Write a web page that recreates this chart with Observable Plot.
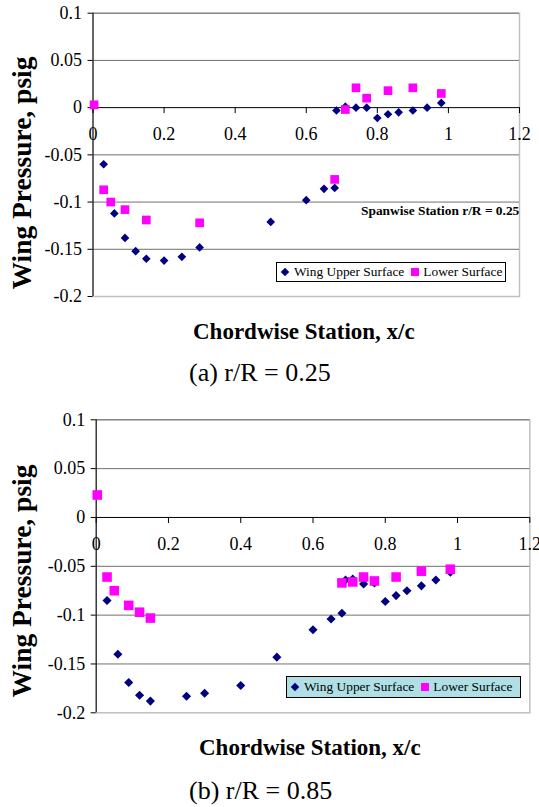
<!DOCTYPE html>
<html><head><meta charset="utf-8">
<script src="https://cdn.jsdelivr.net/npm/d3@7"></script>
<script src="https://cdn.jsdelivr.net/npm/@observablehq/plot@0.6"></script>
<style>
html,body{margin:0;padding:0;background:#fff;}
#page{position:relative;width:539px;height:807px;overflow:hidden;font-family:"Liberation Serif","Times New Roman",serif;color:#000;background:#fff;}
.abs{position:absolute;white-space:nowrap;line-height:1;}
.ytitle{font-weight:bold;font-size:27.5px;transform:translate(-50%,-50%) rotate(-90deg);}
.xtitle{font-weight:bold;font-size:23px;}
.cap{font-size:26px;}
.legend{box-sizing:border-box;border:1px solid #000;display:flex;align-items:center;font-size:13.4px;}
.dia{display:inline-block;width:6px;height:6px;background:#000080;transform:rotate(45deg);flex:none;}
.sq{display:inline-block;width:8px;height:8px;background:#ff00ff;flex:none;}
</style></head><body><div id="page"></div>
<script>
// ---- data ----
const xTicks = [0, 0.2, 0.4, 0.6, 0.8, 1, 1.2];
const xTickLabels = ["0", "0.2", "0.4", "0.6", "0.8", "1", "1.2"];
const yTicks = [0.1, 0.05, 0, -0.05, -0.1, -0.15, -0.2];
const yTickLabels = ["0.1", "0.05", "0", "-0.05", "-0.1", "-0.15", "-0.2"];
const gridVals = [0.1, 0.05, -0.05, -0.1, -0.15];

// (a) r/R = 0.25
const upperX_a = [0.03, 0.06, 0.09, 0.12, 0.15, 0.2, 0.25, 0.3, 0.5, 0.6, 0.65, 0.68, 0.685, 0.71, 0.74, 0.77, 0.8, 0.83, 0.86, 0.9, 0.94, 0.98];
const upperY_a = [-0.060, -0.112, -0.138, -0.152, -0.160, -0.162, -0.158, -0.148, -0.121, -0.098, -0.086, -0.085, -0.003, 0.001, 0.000, 0.000, -0.011, -0.007, -0.005, -0.003, 0.000, 0.005];
const lowerX_a = [0.003, 0.03, 0.05, 0.09, 0.15, 0.3, 0.68, 0.71, 0.74, 0.77, 0.83, 0.9, 0.98];
const lowerY_a = [0.003, -0.087, -0.100, -0.108, -0.119, -0.122, -0.076, -0.002, 0.021, 0.010, 0.018, 0.021, 0.015];

// (b) r/R = 0.85
const upperX_b = [0.03, 0.06, 0.09, 0.12, 0.15, 0.25, 0.3, 0.4, 0.5, 0.6, 0.65, 0.68, 0.69, 0.71, 0.74, 0.77, 0.8, 0.83, 0.86, 0.9, 0.94, 0.98];
const upperY_b = [-0.085, -0.140, -0.169, -0.182, -0.188, -0.183, -0.180, -0.172, -0.143, -0.115, -0.104, -0.098, -0.064, -0.063, -0.068, -0.067, -0.086, -0.080, -0.075, -0.070, -0.064, -0.056];
const lowerX_b = [0.003, 0.03, 0.05, 0.09, 0.12, 0.15, 0.68, 0.71, 0.74, 0.77, 0.83, 0.9, 0.98];
const lowerY_b = [0.023, -0.061, -0.075, -0.090, -0.097, -0.103, -0.067, -0.066, -0.061, -0.065, -0.061, -0.055, -0.053];

const legendUpper = "Wing Upper Surface";
const legendLower = "Lower Surface";
const yTitle = "Wing Pressure, psig";
const xTitle = "Chordwise Station, x/c";
const captionA = "(a) r/R = 0.25";
const captionB = "(b) r/R = 0.85";
const noteA = "Spanwise Station r/R = 0.25";

const FONT = '"Liberation Serif","Times New Roman",serif';
const NAVY = "#000080", MAGENTA = "#ff00ff";

function chart(o) {
  return Plot.plot({
    width: 539, height: o.height,
    marginLeft: o.ml, marginRight: o.mr, marginTop: o.mt, marginBottom: o.mb,
    style: {fontFamily: FONT, fontSize: "18px", background: "transparent", overflow: "visible", color: "black"},
    x: {domain: [0, 1.2], axis: null},
    y: {domain: [-0.2, 0.1], axis: null},
    marks: [
      Plot.frame({stroke: "#c0c0c0", strokeWidth: 1.5}),
      Plot.gridY(gridVals, {stroke: "#707070", strokeOpacity: 1}),
      Plot.ruleY([0], {stroke: "black"}),
      Plot.ruleX([0], {stroke: "black"}),
      Plot.ruleX(xTicks, {x: d => d, y1: 0, y2: 0, insetBottom: -6, stroke: "black"}),
      Plot.text(xTicks, {x: d => d, y: 0, dy: 27, text: (d, i) => xTickLabels[i], fontSize: 18, fill: "black"}),
      Plot.axisY(yTicks, {tickSize: 5, tickPadding: 6, tickFormat: (d) => yTickLabels[yTicks.indexOf(d)], fontSize: 18, label: null, stroke: "black"}),
      Plot.dot(o.ux, {x: o.ux, y: o.uy, symbol: "diamond2", r: o.rd, fill: NAVY, stroke: "none"}),
      Plot.dot(o.lx, {x: o.lx, y: o.ly, symbol: "square", r: o.rs, fill: MAGENTA, stroke: "none"})
    ]
  });
}

const page = document.getElementById("page");
function place(node, left, top) {
  const w = document.createElement("div");
  w.style.position = "absolute"; w.style.left = left + "px"; w.style.top = top + "px";
  w.appendChild(node); page.appendChild(w); return w;
}
function txt(cls, text, css) {
  const d = document.createElement("div");
  d.className = "abs " + cls; d.textContent = text;
  Object.assign(d.style, css); page.appendChild(d); return d;
}
function legend(left, top, width, height, bg, m) {
  const d = document.createElement("div");
  d.className = "abs legend";
  Object.assign(d.style, {left: left + "px", top: top + "px", width: width + "px", height: height + "px", background: bg});
  const a = document.createElement("span"); a.className = "dia"; a.style.marginLeft = m[0] + "px";
  const t1 = document.createElement("span"); t1.textContent = legendUpper; t1.style.marginLeft = m[1] + "px";
  const b = document.createElement("span"); b.className = "sq"; b.style.marginLeft = m[2] + "px";
  const t2 = document.createElement("span"); t2.textContent = legendLower; t2.style.marginLeft = m[3] + "px";
  d.append(a, t1, b, t2); page.appendChild(d);
}

// top chart
place(chart({height: 300, ml: 92.5, mr: 20, mt: 12.7, mb: 4,
  ux: upperX_a, uy: upperY_a, lx: lowerX_a, ly: lowerY_a, rd: 3.9, rs: 4.9}), 0, 0);
txt("ytitle", yTitle, {left: "22px", top: "172.5px"});
txt("", noteA, {left: "361px", top: "203.8px", fontSize: "13.4px", fontWeight: "bold"});
legend(276, 262, 230, 20, "#ffffff", [5, 6, 7, 4]);
txt("xtitle", xTitle, {left: "193px", top: "320px"});
txt("cap", captionA, {left: "189px", top: "360px"});

// bottom chart
place(chart({height: 320, ml: 95.7, mr: 9.7, mt: 19.3, mb: 7.7,
  ux: upperX_b, uy: upperY_b, lx: lowerX_b, ly: lowerY_b, rd: 4.1, rs: 5.4}), 0, 400);
txt("ytitle", yTitle, {left: "22.3px", top: "581px"});
legend(286, 676, 235, 21.5, "#b0e0e6", [5, 6, 7, 4]);
txt("xtitle", xTitle, {left: "199px", top: "735.7px"});
txt("cap", captionB, {left: "189px", top: "778.2px"});
</script>
</body></html>
